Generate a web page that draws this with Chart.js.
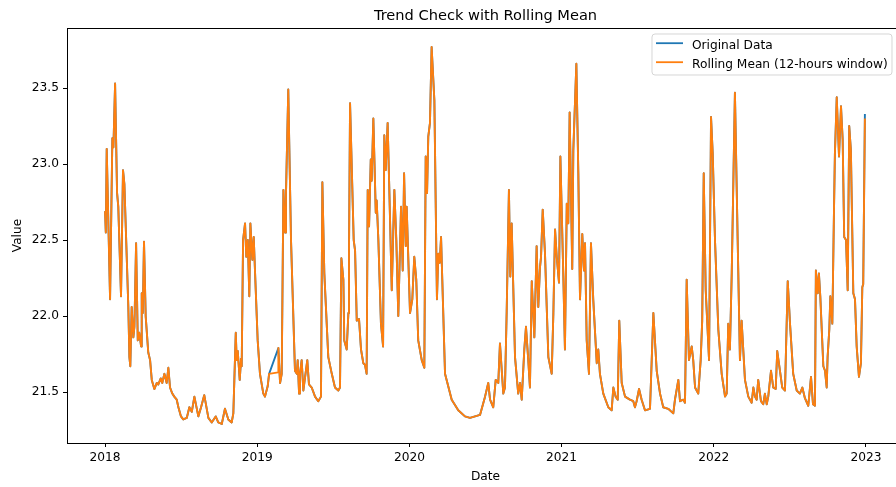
<!DOCTYPE html>
<html>
<head>
<meta charset="utf-8">
<script src="https://cdn.jsdelivr.net/npm/chart.js@4.4.1/dist/chart.umd.min.js"></script>
<style>
  html, body { margin: 0; padding: 0; background: #ffffff; overflow: hidden; }
  canvas { display: block; }
</style>
</head>
<body>
<canvas id="chart" width="910" height="487" style="width:910px;height:487px"></canvas>
<script>
// Time axis in decimal years
const dates = [
  2018.000, 2018.005, 2018.011, 2018.033, 2018.048, 2018.055, 2018.066, 2018.079, 2018.087, 2018.105,
  2018.118, 2018.127, 2018.153, 2018.160, 2018.166, 2018.175, 2018.186, 2018.193, 2018.204, 2018.215,
  2018.225, 2018.237, 2018.241, 2018.248, 2018.256, 2018.267, 2018.284, 2018.296, 2018.307, 2018.324,
  2018.340, 2018.350, 2018.366, 2018.376, 2018.390, 2018.405, 2018.416, 2018.427, 2018.442, 2018.455,
  2018.471, 2018.482, 2018.499, 2018.514, 2018.537, 2018.554, 2018.570, 2018.587, 2018.613, 2018.631,
  2018.652, 2018.679, 2018.701, 2018.727, 2018.744, 2018.767, 2018.788, 2018.810, 2018.832, 2018.843,
  2018.859, 2018.865, 2018.872, 2018.885, 2018.894, 2018.898, 2018.907, 2018.920, 2018.928, 2018.938,
  2018.948, 2018.955, 2018.968, 2018.977, 2018.986, 2019.003, 2019.018, 2019.040, 2019.051, 2019.069,
  2019.078, 2019.137, 2019.139, 2019.150, 2019.161, 2019.172, 2019.183, 2019.189, 2019.204, 2019.222,
  2019.248, 2019.260, 2019.266, 2019.275, 2019.281, 2019.292, 2019.303, 2019.329, 2019.340, 2019.358,
  2019.380, 2019.401, 2019.419, 2019.428, 2019.441, 2019.467, 2019.490, 2019.511, 2019.533, 2019.544,
  2019.553, 2019.566, 2019.572, 2019.588, 2019.599, 2019.603, 2019.610, 2019.634, 2019.643, 2019.654,
  2019.669, 2019.682, 2019.697, 2019.708, 2019.719, 2019.726, 2019.735, 2019.746, 2019.752, 2019.763,
  2019.779, 2019.785, 2019.796, 2019.813, 2019.827, 2019.835, 2019.844, 2019.857, 2019.868, 2019.884,
  2019.901, 2019.914, 2019.927, 2019.945, 2019.956, 2019.965, 2019.976, 2019.982, 2020.004, 2020.019,
  2020.032, 2020.045, 2020.058, 2020.081, 2020.098, 2020.107, 2020.116, 2020.124, 2020.135, 2020.146,
  2020.164, 2020.181, 2020.190, 2020.199, 2020.208, 2020.216, 2020.234, 2020.278, 2020.321, 2020.365,
  2020.398, 2020.431, 2020.464, 2020.497, 2020.518, 2020.530, 2020.551, 2020.567, 2020.584, 2020.595,
  2020.617, 2020.628, 2020.639, 2020.654, 2020.663, 2020.672, 2020.694, 2020.715, 2020.727, 2020.738,
  2020.755, 2020.766, 2020.781, 2020.792, 2020.804, 2020.821, 2020.836, 2020.847, 2020.858, 2020.865,
  2020.876, 2020.891, 2020.913, 2020.935, 2020.946, 2020.957, 2020.968, 2020.983, 2020.992, 2021.011,
  2021.022, 2021.034, 2021.044, 2021.053, 2021.070, 2021.077, 2021.097, 2021.110, 2021.121, 2021.136,
  2021.147, 2021.154, 2021.165, 2021.180, 2021.193, 2021.208, 2021.231, 2021.241, 2021.252, 2021.274,
  2021.307, 2021.329, 2021.340, 2021.355, 2021.369, 2021.379, 2021.395, 2021.417, 2021.449, 2021.471,
  2021.482, 2021.493, 2021.509, 2021.526, 2021.548, 2021.581, 2021.603, 2021.625, 2021.647, 2021.668,
  2021.701, 2021.723, 2021.734, 2021.745, 2021.767, 2021.778, 2021.800, 2021.811, 2021.822, 2021.837,
  2021.855, 2021.865, 2021.877, 2021.898, 2021.914, 2021.924, 2021.934, 2021.947, 2021.969, 2021.982,
  2021.993, 2022.008, 2022.030, 2022.052, 2022.074, 2022.085, 2022.095, 2022.106, 2022.118, 2022.139,
  2022.157, 2022.172, 2022.183, 2022.205, 2022.227, 2022.249, 2022.260, 2022.271, 2022.282, 2022.292,
  2022.310, 2022.325, 2022.336, 2022.348, 2022.358, 2022.376, 2022.391, 2022.407, 2022.417, 2022.435,
  2022.450, 2022.468, 2022.486, 2022.501, 2022.522, 2022.545, 2022.566, 2022.582, 2022.599, 2022.621,
  2022.639, 2022.652, 2022.665, 2022.671, 2022.683, 2022.691, 2022.700, 2022.720, 2022.731, 2022.742,
  2022.748, 2022.759, 2022.766, 2022.779, 2022.790, 2022.796, 2022.808, 2022.823, 2022.836, 2022.847,
  2022.857, 2022.869, 2022.880, 2022.890, 2022.901, 2022.917, 2022.928, 2022.939, 2022.954, 2022.967,
  2022.976, 2022.982, 2022.993
];

// Raw readings (null where no reading exists; the line spans the gap)
const originalData = [
  22.69, 22.55, 23.10, 22.11, 23.17, 23.11, 23.53, 22.81, 22.72, 22.13,
  22.96, 22.87, 22.06, 21.73, 21.67, 22.06, 21.86, 21.93, 22.48, 21.84,
  21.89, 21.80, 22.15, 22.02, 22.49, 22.00, 21.76, 21.71, 21.58, 21.52,
  21.56, 21.55, 21.59, 21.56, 21.62, 21.56, 21.66, 21.53, 21.49, 21.47,
  21.45, 21.40, 21.34, 21.32, 21.33, 21.40, 21.37, 21.47, 21.34, 21.40,
  21.48, 21.33, 21.30, 21.34, 21.30, 21.29, 21.39, 21.32, 21.30, 21.36,
  21.89, 21.71, 21.77, 21.58, 21.72, 21.67, 22.50, 22.61, 22.39, 22.50,
  22.13, 22.61, 22.37, 22.52, 22.28, 21.84, 21.62, 21.49, 21.47, 21.54,
  21.62, null,  21.79, 21.56, 21.62, 22.83, 22.55, 22.81, 23.49, 22.50,
  21.64, 21.62, 21.71, 21.49, 21.62, 21.71, 21.51, 21.71, 21.55, 21.53,
  21.47, 21.44, 21.47, 22.88, 22.28, 21.73, 21.62, 21.53, 21.51, 21.53,
  22.38, 22.24, 21.84, 21.78, 22.02, 22.41, 23.40, 22.50, 22.43, 21.97,
  21.98, 21.78, 21.69, 21.68, 21.62, 22.83, 22.59, 23.03, 22.89, 23.30,
  22.68, 22.76, 22.50, 21.95, 21.80, 23.19, 22.96, 23.27, 22.83, 22.17,
  22.83, 22.50, 22.00, 22.72, 22.30, 22.94, 22.46, 22.72, 22.02, 22.11,
  22.39, 22.24, 21.84, 21.71, 21.66, 23.05, 22.81, 23.18, 23.27, 23.77,
  23.42, 22.11, 22.41, 22.35, 22.52, 22.24, 21.62, 21.45, 21.38, 21.34,
  21.33, 21.34, 21.35, 21.47, 21.56, 21.45, 21.40, 21.58, 21.56, 21.82,
  21.49, 21.53, 22.02, 22.83, 22.26, 22.61, 21.73, 21.49, 21.56, 21.45,
  21.78, 21.93, 21.71, 21.53, 22.23, 21.86, 22.46, 22.06, 22.32, 22.39,
  22.70, 22.41, 21.73, 21.62, 22.02, 22.57, 22.39, 22.22, 23.05, 22.28,
  21.78, 22.74, 22.61, 23.34, 22.31, 23.09, 23.66, 22.94, 22.11, 22.54,
  22.30, 22.48, 21.84, 21.62, 22.48, 22.11, 21.69, 21.78, 21.62, 21.49,
  21.40, 21.38, 21.53, 21.47, 21.45, 21.97, 21.56, 21.47, 21.45, 21.44,
  21.40, 21.44, 21.52, 21.45, 21.38, 21.39, 22.02, 21.64, 21.49, 21.40,
  21.39, 21.37, 21.36, 21.45, 21.58, 21.44, 21.45, 21.43, 22.24, 21.71,
  21.80, 21.71, 21.53, 21.49, 21.71, 21.97, 22.94, 22.17, 21.71, 23.31,
  23.07, 22.50, 21.91, 21.62, 21.47, 21.49, 21.95, 21.78, 22.28, 23.47,
  22.50, 21.71, 21.97, 21.58, 21.47, 21.43, 21.53, 21.47, 21.45, 21.58,
  21.44, 21.42, 21.49, 21.42, 21.47, 21.64, 21.53, 21.52, 21.77, 21.64,
  21.53, 21.51, 22.23, 21.95, 21.62, 21.51, 21.49, 21.53, 21.46, 21.41,
  21.60, 21.42, 21.41, 22.30, 22.15, 22.28, 22.13, 21.67, 21.64, 21.53,
  21.73, 21.91, 22.13, 21.95, 22.70, 23.07, 23.44, 23.05, 23.38, 23.16,
  22.52, 22.50, 22.17, 23.25, 23.09, 22.15, 22.11, 21.80, 21.60, 21.69,
  22.19, 22.21, 23.33
];

// 12-hour rolling mean of the readings
const rollingMean = [
  22.69, 22.55, 23.10, 22.11, 23.17, 23.11, 23.53, 22.81, 22.72, 22.13,
  22.96, 22.87, 22.06, 21.73, 21.67, 22.06, 21.86, 21.93, 22.48, 21.84,
  21.89, 21.80, 22.15, 22.02, 22.49, 22.00, 21.76, 21.71, 21.58, 21.52,
  21.56, 21.55, 21.59, 21.56, 21.62, 21.56, 21.66, 21.53, 21.49, 21.47,
  21.45, 21.40, 21.34, 21.32, 21.33, 21.40, 21.37, 21.47, 21.34, 21.40,
  21.48, 21.33, 21.30, 21.34, 21.30, 21.29, 21.39, 21.32, 21.30, 21.36,
  21.89, 21.71, 21.77, 21.58, 21.72, 21.67, 22.50, 22.61, 22.39, 22.50,
  22.13, 22.61, 22.37, 22.52, 22.28, 21.84, 21.62, 21.49, 21.47, 21.54,
  21.62, 21.63, 21.79, 21.56, 21.62, 22.83, 22.55, 22.81, 23.49, 22.50,
  21.64, 21.62, 21.71, 21.49, 21.62, 21.71, 21.51, 21.71, 21.55, 21.53,
  21.47, 21.44, 21.47, 22.88, 22.28, 21.73, 21.62, 21.53, 21.51, 21.53,
  22.38, 22.24, 21.84, 21.78, 22.02, 22.41, 23.40, 22.50, 22.43, 21.97,
  21.98, 21.78, 21.69, 21.68, 21.62, 22.83, 22.59, 23.03, 22.89, 23.30,
  22.68, 22.76, 22.50, 21.95, 21.80, 23.19, 22.96, 23.27, 22.83, 22.17,
  22.83, 22.50, 22.00, 22.72, 22.30, 22.94, 22.46, 22.72, 22.02, 22.11,
  22.39, 22.24, 21.84, 21.71, 21.66, 23.05, 22.81, 23.18, 23.27, 23.77,
  23.42, 22.11, 22.41, 22.35, 22.52, 22.24, 21.62, 21.45, 21.38, 21.34,
  21.33, 21.34, 21.35, 21.47, 21.56, 21.45, 21.40, 21.58, 21.56, 21.82,
  21.49, 21.53, 22.02, 22.83, 22.26, 22.61, 21.73, 21.49, 21.56, 21.45,
  21.78, 21.93, 21.71, 21.53, 22.23, 21.86, 22.46, 22.06, 22.32, 22.39,
  22.70, 22.41, 21.73, 21.62, 22.02, 22.57, 22.39, 22.22, 23.05, 22.28,
  21.78, 22.74, 22.61, 23.34, 22.31, 23.09, 23.66, 22.94, 22.11, 22.54,
  22.30, 22.48, 21.84, 21.62, 22.48, 22.11, 21.69, 21.78, 21.62, 21.49,
  21.40, 21.38, 21.53, 21.47, 21.45, 21.97, 21.56, 21.47, 21.45, 21.44,
  21.40, 21.44, 21.52, 21.45, 21.38, 21.39, 22.02, 21.64, 21.49, 21.40,
  21.39, 21.37, 21.36, 21.45, 21.58, 21.44, 21.45, 21.43, 22.24, 21.71,
  21.80, 21.71, 21.53, 21.49, 21.71, 21.97, 22.94, 22.17, 21.71, 23.31,
  23.07, 22.50, 21.91, 21.62, 21.47, 21.49, 21.95, 21.78, 22.28, 23.47,
  22.50, 21.71, 21.97, 21.58, 21.47, 21.43, 21.53, 21.47, 21.45, 21.58,
  21.44, 21.42, 21.49, 21.42, 21.47, 21.64, 21.53, 21.52, 21.77, 21.64,
  21.53, 21.51, 22.23, 21.95, 21.62, 21.51, 21.49, 21.53, 21.46, 21.41,
  21.60, 21.42, 21.41, 22.30, 22.15, 22.28, 22.13, 21.67, 21.64, 21.53,
  21.73, 21.91, 22.13, 21.95, 22.70, 23.07, 23.44, 23.05, 23.38, 23.16,
  22.52, 22.50, 22.17, 23.25, 23.09, 22.15, 22.11, 21.80, 21.60, 21.69,
  22.19, 22.21, 23.30
];

const yearTicks = [2018, 2019, 2020, 2021, 2022, 2023];
const valueTicks = [21.5, 22.0, 22.5, 23.0, 23.5];
const seriesNames = ['Original Data', 'Rolling Mean (12-hours window)'];
const seriesColors = ['#1f77b4', '#ff7f0e'];
const chartTitle = 'Trend Check with Rolling Mean';

const FONT = 'DejaVu Sans';
const tickFont = { family: FONT, size: 12.2 };
const textColor = '#000000';

const toPoints = (vals) => dates.map((d, i) => ({ x: d, y: vals[i] }));

// Title, top/right frame and in-axes legend
const framePlugin = {
  id: 'frame',
  afterDatasetsDraw(chart) {
    const { ctx, chartArea: a } = chart;
    ctx.save();
    ctx.strokeStyle = '#000000';
    ctx.lineWidth = 1;
    ctx.beginPath();
    const ty = Math.round(a.top) + 0.5;
    const rx = Math.round(a.right) + 0.5;
    ctx.moveTo(a.left, ty); ctx.lineTo(a.right + 1, ty);
    ctx.moveTo(rx, a.top); ctx.lineTo(rx, a.bottom);
    ctx.stroke();

    ctx.fillStyle = textColor;
    ctx.font = '14.6px "' + FONT + '"';
    ctx.textAlign = 'center';
    ctx.textBaseline = 'alphabetic';
    ctx.fillText(chartTitle, (a.left + a.right) / 2, a.top - 8);

    // legend box
    const bx = a.right - 252, by = a.top + 6, bw = 240, bh = 41, r = 3;
    ctx.beginPath();
    ctx.moveTo(bx + r, by);
    ctx.lineTo(bx + bw - r, by);
    ctx.arcTo(bx + bw, by, bx + bw, by + r, r);
    ctx.lineTo(bx + bw, by + bh - r);
    ctx.arcTo(bx + bw, by + bh, bx + bw - r, by + bh, r);
    ctx.lineTo(bx + r, by + bh);
    ctx.arcTo(bx, by + bh, bx, by + bh - r, r);
    ctx.lineTo(bx, by + r);
    ctx.arcTo(bx, by, bx + r, by, r);
    ctx.closePath();
    ctx.fillStyle = 'rgba(255,255,255,0.8)';
    ctx.fill();
    ctx.strokeStyle = 'rgba(204,204,204,0.8)';
    ctx.lineWidth = 1;
    ctx.stroke();

    ctx.font = '12.2px "' + FONT + '"';
    ctx.textAlign = 'left';
    seriesNames.forEach((name, i) => {
      const ly = by + 9.2 + i * 19;
      ctx.strokeStyle = seriesColors[i];
      ctx.lineWidth = 1.8;
      ctx.beginPath();
      ctx.moveTo(bx + 4, ly);
      ctx.lineTo(bx + 31, ly);
      ctx.stroke();
      ctx.fillStyle = textColor;
      ctx.fillText(name, bx + 40, ly + 5.3);
    });
    ctx.restore();
  }
};

new Chart(document.getElementById('chart'), {
  type: 'line',
  data: {
    datasets: [
      {
        label: seriesNames[0],
        data: toPoints(originalData),
        borderColor: seriesColors[0],
        borderWidth: 1.9,
        borderJoinStyle: 'round',
        pointRadius: 0,
        tension: 0,
        spanGaps: true,
        order: 2
      },
      {
        label: seriesNames[1],
        data: toPoints(rollingMean),
        borderColor: seriesColors[1],
        borderWidth: 1.9,
        borderJoinStyle: 'round',
        pointRadius: 0,
        tension: 0,
        order: 1
      }
    ]
  },
  options: {
    responsive: false,
    animation: false,
    devicePixelRatio: 1,
    parsing: true,
    layout: { padding: { left: 0, top: 28, right: 6, bottom: 0 } },
    plugins: {
      legend: { display: false },
      title: { display: false },
      tooltip: { enabled: false }
    },
    scales: {
      x: {
        type: 'linear',
        min: 2017.75,
        max: 2023.25,
        afterBuildTicks: (s) => { s.ticks = yearTicks.map(v => ({ value: v })); },
        afterFit: (s) => { s.height = 44; },
        ticks: {
          callback: (v) => String(v),
          font: tickFont,
          color: textColor,
          padding: 4,
          maxRotation: 0,
          autoSkip: false
        },
        grid: { drawOnChartArea: false, drawTicks: true, tickLength: 4, color: '#000000', tickWidth: 1 },
        border: { display: true, color: '#000000', width: 1 },
        title: { display: true, text: 'Date', font: tickFont, color: textColor, padding: { top: 0, bottom: 3 } }
      },
      y: {
        type: 'linear',
        min: 21.165,
        max: 23.895,
        afterBuildTicks: (s) => { s.ticks = valueTicks.map(v => ({ value: v })); },
        afterFit: (s) => { s.width = 67; },
        ticks: {
          callback: (v) => Number(v).toFixed(1),
          font: tickFont,
          color: textColor,
          padding: 4
        },
        grid: { drawOnChartArea: false, drawTicks: true, tickLength: 4, color: '#000000', tickWidth: 1 },
        border: { display: true, color: '#000000', width: 1 },
        title: { display: true, text: 'Value', font: tickFont, color: textColor, padding: { top: 11, bottom: 0 } }
      }
    }
  },
  plugins: [framePlugin]
});
</script>
</body>
</html>
